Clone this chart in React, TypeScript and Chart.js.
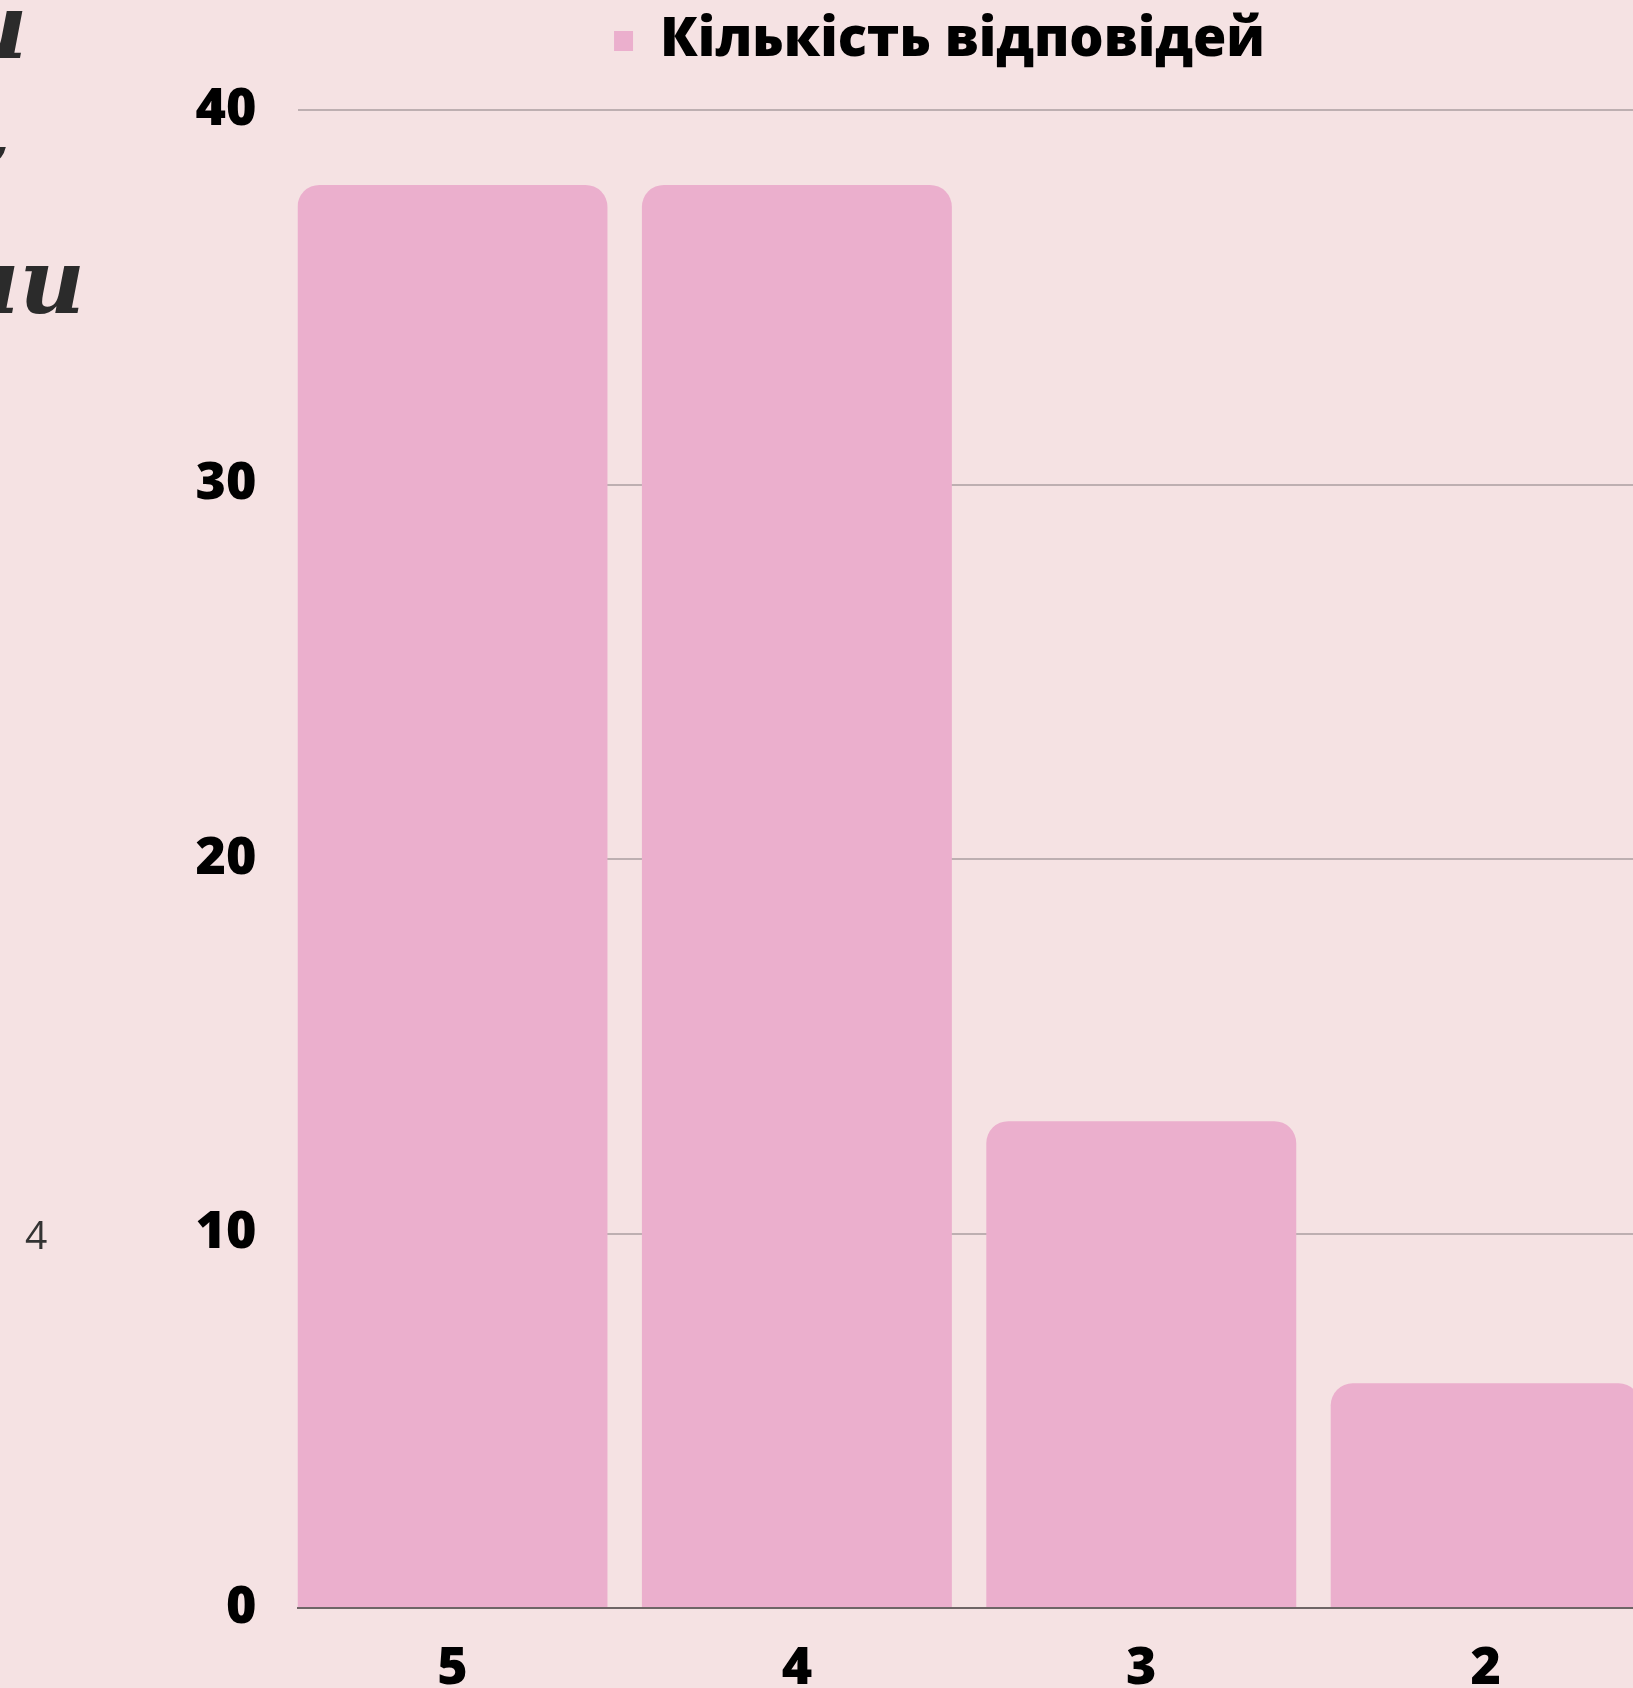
import React, { useEffect, useRef } from "react";
import { Chart, registerables } from "chart.js";

Chart.register(...registerables);

// ---- data ----
const categories = ["5", "4", "3", "2"];
const responses = [38, 38, 13, 6];
const yTickValues = [0, 10, 20, 30, 40];
const seriesLabel = "Кількість відповідей";

// ---- style ----
const BG = "#f5e2e3";
const BAR = "#ebafcd";
const GRID = "#bdafb1";
const AXIS = "#6e6566";
const FONT = "'Open Sans', 'Noto Sans', sans-serif";

const CANVAS_W = 1879;
const CANVAS_H = 1728;
const PLOT_LEFT = 297.5;
const PLOT_TOP = 110;
const XAXIS_H = 120;
const BAR_STEP_PX = 344.4;

export default function App() {
  const ref = useRef<HTMLCanvasElement | null>(null);

  useEffect(() => {
    const canvas = ref.current;
    if (!canvas) return;

    const legendHeight = {
      id: "legendHeight",
      beforeInit(chart: any) {
        const legend = chart.legend;
        if (!legend) return;
        const orig = legend.fit;
        legend.fit = function () {
          orig.call(this);
          this.height = PLOT_TOP;
        };
      },
    };

    const xMin = -0.45;
    const xMax = xMin + (CANVAS_W - PLOT_LEFT) / BAR_STEP_PX;

    const chart = new Chart(canvas, {
      type: "bar",
      data: {
        datasets: [
          {
            label: seriesLabel,
            data: categories.map((c, i) => ({ x: i, y: responses[i] })),
            backgroundColor: BAR,
            borderWidth: 0,
            borderRadius: 22,
            borderSkipped: "start",
            categoryPercentage: 1,
            barPercentage: 0.9,
          } as any,
        ],
      },
      options: {
        responsive: false,
        animation: false,
        devicePixelRatio: 1,
        layout: { padding: 0 },
        plugins: {
          legend: {
            display: true,
            position: "top",
            labels: {
              boxWidth: 19,
              boxHeight: 20,
              padding: 14,
              color: "#000",
              font: { family: FONT, size: 54, weight: "800" as any },
            },
          },
          tooltip: { enabled: false },
        },
        scales: {
          x: {
            type: "linear",
            min: xMin,
            max: xMax,
            offset: false,
            z: 1,
            afterBuildTicks: (s: any) => {
              s.ticks = categories.map((_, i) => ({ value: i }));
            },
            afterFit: (s: any) => {
              s.height = XAXIS_H;
            },
            ticks: {
              callback: (v: any) => categories[Math.round(Number(v))] ?? "",
              color: "#000",
              padding: 30,
              maxRotation: 0,
              autoSkip: false,
              font: { family: FONT, size: 52, weight: "800" as any },
            },
            grid: { display: false, drawTicks: false, offset: false },
            border: { display: true, color: AXIS, width: 2 },
          },
          y: {
            min: 0,
            max: 40,
            afterBuildTicks: (s: any) => {
              s.ticks = yTickValues.map((v) => ({ value: v }));
            },
            afterFit: (s: any) => {
              s.width = PLOT_LEFT;
            },
            ticks: {
              color: "#000",
              padding: 41,
              font: { family: FONT, size: 52, weight: "800" as any },
            },
            grid: { color: GRID, lineWidth: 2, drawTicks: false },
            border: { display: false },
          },
        },
      } as any,
      plugins: [legendHeight],
    });

    return () => chart.destroy();
  }, []);

  const script: React.CSSProperties = {
    position: "absolute",
    fontFamily: "'DejaVu Serif', serif",
    fontStyle: "italic",
    fontWeight: 700,
    fontSize: 90,
    lineHeight: 1,
    color: "#2b2b2b",
    whiteSpace: "nowrap",
    zIndex: 2,
  };

  return (
    <div
      style={{
        position: "fixed",
        left: 0,
        top: 0,
        width: 1633,
        height: 1688,
        overflow: "hidden",
        background: BG,
      }}
    >
      <canvas
        ref={ref}
        width={CANVAS_W}
        height={CANVAS_H}
        style={{ position: "absolute", left: 0, top: 0, width: CANVAS_W, height: CANVAS_H }}
      />
      <div style={{ ...script, left: -38, top: -19 }}>и</div>
      <div style={{ ...script, left: -12, top: 140, fontSize: 60 }}>’</div>
      <div style={{ ...script, left: -66, top: 236 }}>ми</div>
      <div
        style={{
          position: "absolute",
          left: 25,
          top: 1214,
          fontFamily: FONT,
          fontWeight: 400,
          fontSize: 39,
          lineHeight: 1,
          color: "#333",
          zIndex: 2,
        }}
      >
        4
      </div>
    </div>
  );
}
